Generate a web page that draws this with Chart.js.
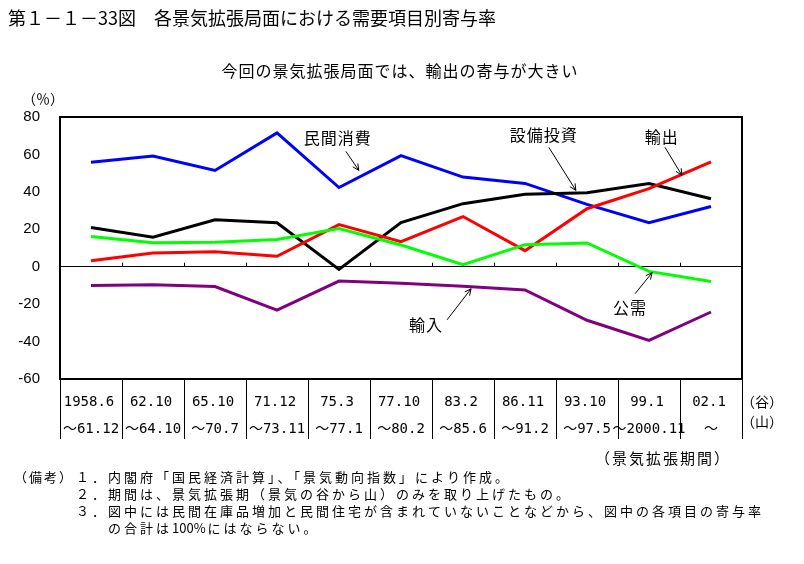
<!DOCTYPE html>
<html lang="ja">
<head>
<meta charset="utf-8">
<script src="https://cdn.jsdelivr.net/npm/chart.js@4/dist/chart.umd.min.js"></script>
<style>
  html, body { margin: 0; padding: 0; background: #fff; }
  #wrap { width: 804px; height: 564px; position: relative; }
</style>
</head>
<body>
<div id="wrap"><canvas id="grafica" width="804" height="564"></canvas></div>
<script>
// 景気拡張期（谷～山）
const periodStart = ['1958.6', '62.10', '65.10', '71.12', '75.3', '77.10', '83.2', '86.11', '93.10', '99.1', '02.1'];
const periodEnd = ['～61.12', '～64.10', '～70.7', '～73.11', '～77.1', '～80.2', '～85.6', '～91.2', '～97.5', '～2000.11', '～'];

// 需要項目別寄与率（％）
const consumption = [55.8, 59.1, 51.4, 71.5, 42.3, 59.4, 47.9, 44.5, 33.3, 23.5, 32.2];
const investment = [20.9, 15.8, 25.1, 23.5, -1.4, 23.6, 33.7, 38.7, 39.5, 44.4, 36.3];
const exportsShare = [3.2, 7.3, 8.0, 5.6, 22.5, 13.4, 26.8, 8.6, 31.0, 41.7, 56.0];
const publicDemand = [16.1, 12.8, 13.1, 14.5, 20.4, 11.6, 1.1, 11.8, 12.7, -2.5, -7.9];
const importsShare = [-10.1, -9.6, -10.6, -23.2, -7.7, -8.8, -10.4, -12.4, -28.6, -39.4, -24.2];

const yTicks = [-60, -40, -20, 0, 20, 40, 60, 80];

const JP = '"Noto Sans CJK JP", sans-serif';
const MONO = '"DejaVu Sans Mono", "Noto Sans CJK JP", monospace';

// 矢印付きラベル：先端はデータ座標、文字と矢の根元は先端からのずれ（px）
const callouts = [
    { text: '民間消費', at: [4.32, 51.5], tail: [-13, -19], label: [-21, -32] },
    { text: '設備投資', at: [7.82, 40.8], tail: [-27, -43], label: [-32, -55] },
    { text: '輸出', at: [9.53, 48.9], tail: [-17, -28], label: [-20, -38] },
    { text: '公需', at: [9.05, -3.2], tail: [-17, 21], label: [-22, 35] },
    { text: '輸入', at: [6.13, -11.8], tail: [-24, 31], label: [-45, 36] },
];

function texto(ctx, str, x, y, font, align, spacing) {
    ctx.save();
    ctx.font = font;
    ctx.fillStyle = '#000';
    ctx.textAlign = align || 'left';
    ctx.textBaseline = 'middle';
    ctx.letterSpacing = (spacing || 0) + 'px';
    ctx.fillText(str, x, y);
    const w = ctx.measureText(str).width;
    ctx.restore();
    return w;
}

function flecha(ctx, x1, y1, x2, y2) {
    const ang = Math.atan2(y2 - y1, x2 - x1);
    const len = 7;
    ctx.save();
    ctx.strokeStyle = '#000';
    ctx.lineWidth = 1;
    ctx.beginPath();
    ctx.moveTo(x1, y1);
    ctx.lineTo(x2, y2);
    ctx.moveTo(x2, y2);
    ctx.lineTo(x2 - len * Math.cos(ang - 0.45), y2 - len * Math.sin(ang - 0.45));
    ctx.moveTo(x2, y2);
    ctx.lineTo(x2 - len * Math.cos(ang + 0.45), y2 - len * Math.sin(ang + 0.45));
    ctx.stroke();
    ctx.restore();
}

const decoracion = {
    id: 'decoracion',
    afterDraw(chart) {
        const { ctx, chartArea: a, scales: { x, y } } = chart;
        const n = periodStart.length;
        const y0 = y.getPixelForValue(0);

        // 枠
        ctx.save();
        ctx.strokeStyle = '#000';
        ctx.lineWidth = 2;
        ctx.strokeRect(a.left, a.top, a.right - a.left, a.bottom - a.top);

        // ゼロ線上の目盛り と 下の表の縦線
        ctx.lineWidth = 1;
        ctx.beginPath();
        for (let i = 0; i <= n; i++) {
            const px = Math.round(x.getPixelForValue(i - 0.5)) + 0.5;
            if (i > 0 && i < n) {
                ctx.moveTo(px, y0 - 4);
                ctx.lineTo(px, y0);
            }
            ctx.moveTo(px, a.bottom);
            ctx.lineTo(px, a.bottom + 60);
        }
        ctx.stroke();
        ctx.restore();

        // 期間ラベル
        for (let i = 0; i < n; i++) {
            const cx = x.getPixelForValue(i);
            texto(ctx, periodStart[i], cx - 2, a.bottom + 23, '14px ' + MONO, 'center');
            texto(ctx, periodEnd[i], cx, a.bottom + 50, '14px ' + MONO, 'center');
        }
        texto(ctx, '（谷）', a.right - 1, a.bottom + 23, '14px ' + JP, 'left');
        texto(ctx, '（山）', a.right - 1, a.bottom + 43, '14px ' + JP, 'left');
        texto(ctx, '（景気拡張期間）', 595, a.bottom + 79, '15px ' + JP, 'left', 2);

        // 単位
        texto(ctx, '（％）', 22, 99, '14px ' + JP, 'left');

        // 矢印付きラベル
        callouts.forEach(c => {
            const tx = x.getPixelForValue(c.at[0]);
            const ty = y.getPixelForValue(c.at[1]);
            flecha(ctx, tx + c.tail[0], ty + c.tail[1], tx, ty);
            texto(ctx, c.text, tx + c.label[0], ty + c.label[1], '16px ' + JP, 'center', 1);
        });

        // 表題・副題
        texto(ctx, '第１－１－33図　各景気拡張局面における需要項目別寄与率', 8, 18, '18px ' + JP, 'left');
        texto(ctx, '今回の景気拡張局面では、輸出の寄与が大きい', 400, 71, '16px ' + JP, 'center', 1);

        // 備考
        const nf = '13px ' + JP;
        texto(ctx, '（備考）', 14, 477, nf, 'left', 2);
        texto(ctx, '１．', 76, 477, nf, 'left', 3);
        texto(ctx, '内閣府「国民経済計算」、「景気動向指数」により作成。', 108, 477, nf, 'left', 3);
        texto(ctx, '２．', 76, 494, nf, 'left', 3);
        texto(ctx, '期間は、景気拡張期（景気の谷から山）のみを取り上げたもの。', 108, 494, nf, 'left', 3);
        texto(ctx, '３．', 76, 511, nf, 'left', 3);
        texto(ctx, '図中には民間在庫品増加と民間住宅が含まれていないことなどから、図中の各項目の寄与率', 108, 511, nf, 'left', 3);
        let nx = 108;
        nx += texto(ctx, 'の合計は', nx, 528, nf, 'left', 3);
        nx += texto(ctx, '100%', nx, 528, nf, 'left', 0) + 2;
        texto(ctx, 'にはならない。', nx, 528, nf, 'left', 3);
    }
};

function serie(label, data, color) {
    return {
        label,
        data,
        borderColor: color,
        backgroundColor: color,
        borderWidth: 3,
        pointRadius: 0,
        tension: 0,
    };
}

new Chart(document.getElementById('grafica'), {
    type: 'line',
    data: {
        labels: periodStart,
        datasets: [
            serie('輸入', importsShare, '#800080'),
            serie('公需', publicDemand, '#00ff00'),
            serie('輸出', exportsShare, '#ff0000'),
            serie('設備投資', investment, '#000000'),
            serie('民間消費', consumption, '#0000ff'),
        ],
    },
    options: {
        responsive: false,
        animation: false,
        layout: { padding: { left: 0, top: 117, right: 62, bottom: 0 } },
        plugins: {
            legend: { display: false },
            tooltip: { enabled: false },
            title: { display: false },
        },
        scales: {
            x: {
                type: 'category',
                offset: true,
                grid: { display: false },
                border: { display: false },
                ticks: { display: false },
                afterFit: scale => { scale.height = 185; },
            },
            y: {
                min: -60,
                max: 80,
                afterBuildTicks: scale => { scale.ticks = yTicks.map(v => ({ value: v })); },
                grid: {
                    drawTicks: false,
                    color: c => (c.tick && c.tick.value === 0 ? '#000' : 'rgba(0,0,0,0)'),
                    lineWidth: 1,
                },
                border: { display: false },
                ticks: {
                    padding: 20,
                    color: '#000',
                    font: { family: 'Liberation Sans', size: 15 },
                },
                afterFit: scale => { scale.width = 60; },
            },
        },
    },
    plugins: [decoracion],
});
</script>
</body>
</html>
